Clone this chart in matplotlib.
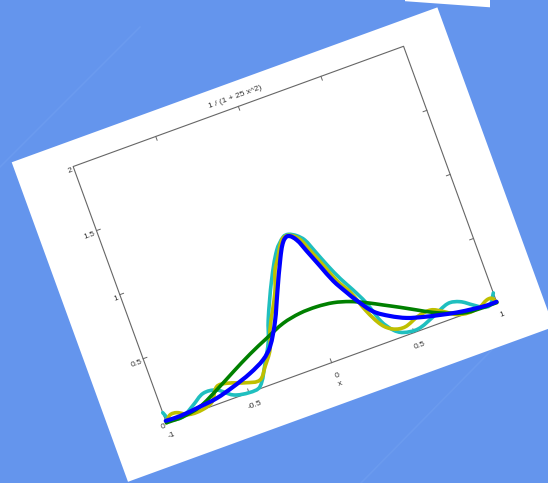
import numpy as np
import matplotlib
matplotlib.use("Agg")
import matplotlib.pyplot as plt
from matplotlib.transforms import Affine2D
from matplotlib.patches import Rectangle, Polygon, PathPatch
from matplotlib.path import Path

# ---------------- data ----------------
x_green = [-1.0, -0.898, -0.789, -0.668, -0.543, -0.419, -0.300, -0.182, -0.073, 0.029,
           0.126, 0.217, 0.304, 0.388, 0.473, 0.557, 0.641, 0.729, 0.820, 0.916, 1.0]
y_green = [0.0, 0.0, 0.027, 0.100, 0.184, 0.264, 0.331, 0.393, 0.420, 0.423,
           0.409, 0.375, 0.325, 0.268, 0.210, 0.150, 0.091, 0.043, 0.007, 0.0, 0.0]

x_cyan = [-1.0, -0.98, -0.958, -0.90, -0.822, -0.746, -0.668, -0.588, -0.496, -0.43,
          -0.357, -0.298, -0.256, -0.16, -0.074, -0.013, 0.018, 0.060, 0.095, 0.127,
          0.169, 0.211, 0.255, 0.300, 0.345, 0.393, 0.440, 0.527, 0.633, 0.737,
          0.805, 0.869, 0.92, 0.96, 1.0]
y_cyan = [0.079, 0.018, 0.002, 0.0, 0.055, 0.111, 0.100, 0.024, 0.0, 0.014,
          0.163, 0.303, 0.453, 0.720, 0.914, 0.989, 0.993, 0.963, 0.913, 0.812,
          0.675, 0.555, 0.450, 0.330, 0.160, 0.070, 0.029, 0.015, 0.062, 0.116,
          0.098, 0.042, 0.0, 0.0, 0.075]

x_yellow = [-1.0, -0.966, -0.925, -0.862, -0.781, -0.716, -0.661, -0.601, -0.493, -0.417,
            -0.364, -0.305, -0.266, -0.165, -0.122, -0.085, -0.028, 0.007, 0.042, 0.073,
            0.105, 0.147, 0.189, 0.238, 0.285, 0.340, 0.395, 0.462, 0.555, 0.634,
            0.696, 0.762, 0.829, 0.901, 0.951, 0.981, 1.0]
y_yellow = [0.0, 0.045, 0.044, 0.0, 0.0, 0.029, 0.123, 0.121, 0.075, 0.060,
            0.139, 0.242, 0.380, 0.631, 0.781, 0.855, 0.971, 0.988, 0.969, 0.923,
            0.822, 0.685, 0.549, 0.436, 0.270, 0.135, 0.077, 0.062, 0.104, 0.114,
            0.073, 0.018, 0.0, 0.012, 0.043, 0.042, 0.0]

x_blue = [-1.0, -0.915, -0.789, -0.684, -0.572, -0.457, -0.359, -0.298, -0.224, -0.150,
          -0.070, -0.023, 0.013, 0.052, 0.084, 0.126, 0.168, 0.217, 0.255, 0.322,
          0.403, 0.488, 0.579, 0.672, 0.766, 0.862, 0.940, 1.0]
y_blue = [0.015, 0.012, 0.027, 0.043, 0.081, 0.131, 0.193, 0.265, 0.422, 0.630,
          0.850, 0.955, 0.982, 0.933, 0.832, 0.695, 0.559, 0.446, 0.366, 0.248,
          0.175, 0.120, 0.085, 0.057, 0.032, 0.015, 0.005, 0.006]

x_limits = (-1.0, 1.0)
y_limits = (0.0, 2.0)
x_ticks = [-1, -0.5, 0, 0.5, 1]
x_tick_labels = ["-1", "-0.5", "0", "0.5", "1"]
y_ticks = [0, 0.5, 1, 1.5, 2]
y_tick_labels = ["0", "0.5", "1", "1.5", "2"]
title_text = "1 / (1 + 25 x^2)"
xlabel_text = "x"

# ---------------- figure / scene ----------------
W, H = 548, 483
BG = "#6495ED"
fig = plt.figure(figsize=(W / 100, H / 100), dpi=100)
fig.patch.set_facecolor(BG)
ax = fig.add_axes([0, 0, 1, 1])
ax.set_xlim(0, W)
ax.set_ylim(H, 0)
ax.axis("off")

# faint light streaks in the background
ax.plot([0, 140], [167, 27], color="#6b9bef", lw=1.2, zorder=1)
ax.plot([361, 531], [483, 310], color="#6b9bef", lw=1.2, zorder=1)
# sliver of another white sheet at the top
ax.add_patch(Polygon([(405, 0), (490, 0), (490, 7.3), (405, 1.2)], closed=True,
                     fc="white", ec="none", zorder=1))

# rotated sheet
ROT = -20
PAGE_ORIGIN = (11.7, 162.3)
PAGE_W, PAGE_H = 453, 340
T_page = Affine2D().rotate_deg(ROT).translate(*PAGE_ORIGIN) + ax.transData
ax.add_patch(Rectangle((0, 0), PAGE_W, PAGE_H, transform=T_page, fc="white",
                       ec="none", zorder=2))

# plot box inside the sheet (sheet pixel coords)
L, R, TOP, B = 56.3, 407.9, 25.0, 297.7
Wp, Hp = R - L, B - TOP
xmin, xmax = x_limits
ymin, ymax = y_limits
D2P = (Affine2D().translate(-xmin, -ymin)
       .scale(Wp / (xmax - xmin), -Hp / (ymax - ymin))
       .translate(L, B))
T_data = D2P + T_page

frame_col = "#666666"
ax.plot([xmin, xmax, xmax, xmin, xmin], [ymin, ymin, ymax, ymax, ymin],
        transform=T_data, color=frame_col, lw=0.8, zorder=3)

tick_px = 4.0
tlx = tick_px * (xmax - xmin) / Wp
tly = tick_px * (ymax - ymin) / Hp
for xt in x_ticks[1:-1]:
    ax.plot([xt, xt], [ymin, ymin + tly], transform=T_data, color=frame_col, lw=0.7, zorder=3)
    ax.plot([xt, xt], [ymax, ymax - tly], transform=T_data, color=frame_col, lw=0.7, zorder=3)
for yt in y_ticks[1:-1]:
    ax.plot([xmin, xmin + tlx], [yt, yt], transform=T_data, color=frame_col, lw=0.7, zorder=3)
    ax.plot([xmax, xmax - tlx], [yt, yt], transform=T_data, color=frame_col, lw=0.7, zorder=3)

txt_kw = dict(transform=T_page, rotation=-ROT, rotation_mode="anchor",
              fontsize=6, family=["Liberation Sans", "DejaVu Sans"], color="#333333",
              zorder=4)
for xt, lab in zip(x_ticks, x_tick_labels):
    u, v = D2P.transform((xt, ymin))
    ax.text(u + 1, v + 13.8, lab, ha="center", va="center", **txt_kw)
for yt, lab in zip(y_ticks, y_tick_labels):
    u, v = D2P.transform((xmin, yt))
    ax.text(u - 2.0, v + 2.5, lab, ha="right", va="center", **txt_kw)

u, v = D2P.transform(((xmin + xmax) / 2, ymax))
ax.text(u, v - 9.7, title_text, ha="center", va="center", **txt_kw)
u, v = D2P.transform(((xmin + xmax) / 2, ymin))
ax.text(u + 1, v + 22.9, xlabel_text, ha="center", va="center", **txt_kw)


def smooth_path(xs, ys):
    """Smooth cubic path through the read points (in sheet pixel space)."""
    P = D2P.transform(np.column_stack([xs, ys]))
    n = len(P)
    verts = [P[0]]
    codes = [Path.MOVETO]
    for i in range(n - 1):
        p0 = P[i - 1] if i > 0 else P[i]
        p1, p2 = P[i], P[i + 1]
        p3 = P[i + 2] if i + 2 < n else P[i + 1]
        d = np.hypot(*(p2 - p1))
        d0 = np.hypot(*(p2 - p0)) or 1.0
        d3 = np.hypot(*(p3 - p1)) or 1.0
        c1 = p1 + (p2 - p0) * d / (3 * d0)
        c2 = p2 - (p3 - p1) * d / (3 * d3)
        verts += [c1, c2, p2]
        codes += [Path.CURVE4] * 3
    return Path(verts, codes)


def draw_curve(xs, ys, color, lw, z):
    ax.add_patch(PathPatch(smooth_path(xs, ys), transform=T_page, fc="none",
                           ec=color, lw=lw, capstyle="round", joinstyle="round",
                           zorder=z))


# curves
draw_curve(x_cyan, y_cyan, "#1fbfbf", 2.6, 5)
draw_curve(x_yellow, y_yellow, "#bfbf00", 2.6, 6)
draw_curve(x_green, y_green, "#008000", 2.6, 7)
draw_curve(x_blue, y_blue, "#0000ff", 3.0, 8)

fig.savefig("out.png", dpi=100, facecolor=BG)
